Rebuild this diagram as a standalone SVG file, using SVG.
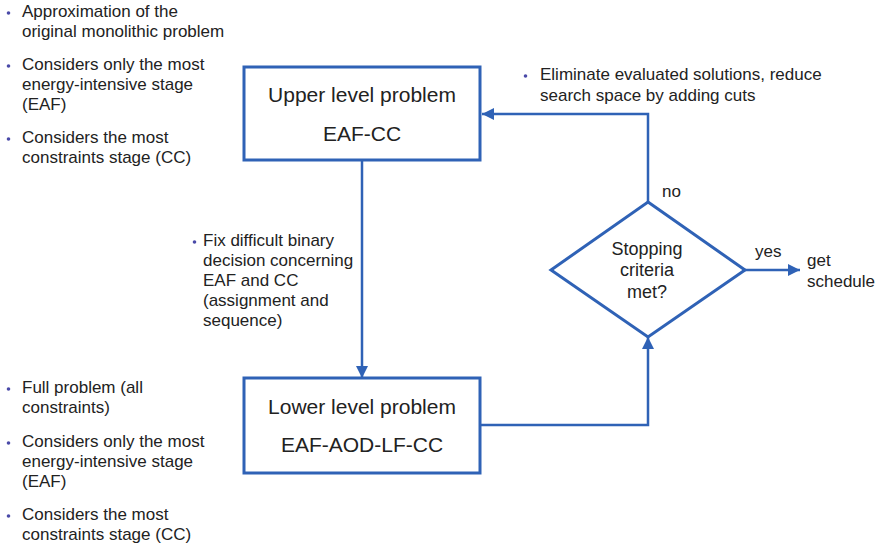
<svg xmlns="http://www.w3.org/2000/svg" width="880" height="548" viewBox="0 0 880 548">
<defs>
<style>
.t{font-family:"Liberation Sans",Arial,sans-serif;fill:#222;font-size:17px}
.bt{font-family:"Liberation Sans",Arial,sans-serif;fill:#222;font-size:21px;text-anchor:middle}
.dt{font-family:"Liberation Sans",Arial,sans-serif;fill:#222;font-size:18px;text-anchor:middle}
.box{fill:#fff;stroke:#2f62b6;stroke-width:3}
.ln{fill:none;stroke:#2f62b6;stroke-width:2.5}
.bul{fill:#4a4aa8}
</style>
<marker id="ah" viewBox="0 0 10 10" refX="10" refY="5" markerWidth="12" markerHeight="12" markerUnits="userSpaceOnUse" orient="auto">
<path d="M0,0 L10,5 L0,10 z" fill="#2f62b6"/>
</marker>
</defs>
<rect width="880" height="548" fill="#fff"/>

<g id="notes-upper">
<circle class="bul" cx="8.5" cy="13" r="1.8"/>
<text class="t" x="22" y="17">Approximation of the</text>
<text class="t" x="22" y="37">original monolithic problem</text>
<circle class="bul" cx="8.5" cy="66" r="1.8"/>
<text class="t" x="22" y="70">Considers only the most</text>
<text class="t" x="22" y="90">energy-intensive stage</text>
<text class="t" x="22" y="110">(EAF)</text>
<circle class="bul" cx="8.5" cy="139" r="1.8"/>
<text class="t" x="22" y="143">Considers the most</text>
<text class="t" x="22" y="163">constraints stage (CC)</text>
</g>

<g id="notes-lower">
<circle class="bul" cx="8.5" cy="389" r="1.8"/>
<text class="t" x="22" y="393">Full problem (all</text>
<text class="t" x="22" y="413">constraints)</text>
<circle class="bul" cx="8.5" cy="443" r="1.8"/>
<text class="t" x="22" y="447">Considers only the most</text>
<text class="t" x="22" y="467">energy-intensive stage</text>
<text class="t" x="22" y="487">(EAF)</text>
<circle class="bul" cx="8.5" cy="516" r="1.8"/>
<text class="t" x="22" y="520">Considers the most</text>
<text class="t" x="22" y="540">constraints stage (CC)</text>
</g>

<g id="note-fix">
<circle class="bul" cx="194.5" cy="242" r="1.8"/>
<text class="t" x="203" y="246">Fix difficult binary</text>
<text class="t" x="203" y="266">decision concerning</text>
<text class="t" x="203" y="286">EAF and CC</text>
<text class="t" x="203" y="306">(assignment and</text>
<text class="t" x="203" y="326">sequence)</text>
</g>

<g id="note-cuts">
<circle class="bul" cx="525.5" cy="76" r="1.8"/>
<text class="t" x="540" y="80">Eliminate evaluated solutions, reduce</text>
<text class="t" x="540" y="101">search space by adding cuts</text>
</g>

<g id="connectors">
<line class="ln" x1="362" y1="160" x2="362" y2="378" marker-end="url(#ah)"/>
<polyline class="ln" points="480,425 648,425 648,337" marker-end="url(#ah)"/>
<polyline class="ln" points="648,202 648,114 482,114" marker-end="url(#ah)"/>
<line class="ln" x1="745" y1="270" x2="800" y2="270" marker-end="url(#ah)"/>
<text class="t" x="662" y="197">no</text>
<text class="t" x="755" y="257">yes</text>
</g>

<g id="upper">
<rect class="box" x="244" y="67" width="236" height="93"/>
<text class="bt" x="362" y="102">Upper level problem</text>
<text class="bt" x="362" y="141">EAF-CC</text>
</g>

<g id="lower">
<rect class="box" x="244" y="378" width="236" height="95"/>
<text class="bt" x="362" y="414">Lower level problem</text>
<text class="bt" x="362" y="452">EAF-AOD-LF-CC</text>
</g>

<g id="decision">
<polygon class="box" points="648,202 745,270 648,337 551,270"/>
<text class="dt" x="647" y="255">Stopping</text>
<text class="dt" x="647" y="276">criteria</text>
<text class="dt" x="647" y="298">met?</text>
</g>

<g id="schedule">
<text class="t" x="807" y="266">get</text>
<text class="t" x="807" y="287">schedule</text>
</g>
</svg>
